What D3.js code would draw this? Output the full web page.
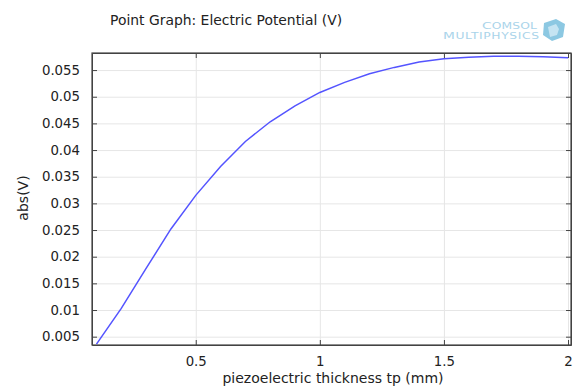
<!DOCTYPE html>
<html>
<head>
<meta charset="utf-8">
<script src="https://cdn.jsdelivr.net/npm/d3@7"></script>
<style>
  body { margin: 0; background: #fff; }
  svg text { font-family: "DejaVu Sans", sans-serif; fill: #222; }
  .grid line { stroke: #e6e6e6; }
  .grid path { display: none; }
  .axis path { stroke: #444; }
  .axis line { stroke: #444; }
</style>
</head>
<body>
<div id="chart"></div>
<script>
// chart data: thickness (mm) vs abs(V)
var thickness = [0.1, 0.2, 0.3, 0.4, 0.5, 0.6, 0.7, 0.8, 0.9, 1.0,
                 1.1, 1.2, 1.3, 1.4, 1.5, 1.6, 1.7, 1.8, 1.9, 2.0];
var absV = [0.0036, 0.0103, 0.0178, 0.0252, 0.0315, 0.0369, 0.0416, 0.0453, 0.0483, 0.0508,
            0.0527, 0.0543, 0.0555, 0.0565, 0.0571, 0.0574, 0.0576, 0.0576, 0.0575, 0.0573];
var xTicks = [0.5, 1, 1.5, 2];
var yTicks = [0.005, 0.01, 0.015, 0.02, 0.025, 0.03, 0.035, 0.04, 0.045, 0.05, 0.055];

var svgWidth = 574;
var svgHeight = 389;

var margin = { top: 53, right: 3, bottom: 44, left: 92 };
var width = svgWidth - margin.left - margin.right;   // 479
var height = svgHeight - margin.top - margin.bottom; // 292

var data = thickness.map(function(t, i) { return { x: t, y: absV[i] }; });

var svg = d3.select("#chart")
  .append("svg")
  .attr("width", svgWidth)
  .attr("height", svgHeight);

var chartGroup = svg.append("g")
  .attr("transform", `translate(${margin.left}, ${margin.top})`);

var xScale = d3.scaleLinear()
  .domain([0.082, 2.012])
  .range([0, width]);

var yScale = d3.scaleLinear()
  .domain([0.00344, 0.0582])
  .range([height, 0]);

var fmt = function(v) { return String(+v.toFixed(3)); };

// grid lines
chartGroup.append("g")
  .attr("class", "grid")
  .attr("transform", `translate(0, ${height})`)
  .call(d3.axisBottom(xScale).tickValues(xTicks).tickSize(-height).tickFormat(""));

chartGroup.append("g")
  .attr("class", "grid")
  .call(d3.axisLeft(yScale).tickValues(yTicks).tickSize(-width).tickFormat(""));

// line
var line = d3.line()
  .x(d => xScale(d.x))
  .y(d => yScale(d.y));

chartGroup.append("path")
  .datum(data)
  .attr("fill", "none")
  .attr("stroke", "#5454ff")
  .attr("stroke-width", 1.5)
  .attr("d", line);

// axes, ticks pointing inward
var bottomAxis = d3.axisBottom(xScale).tickValues(xTicks).tickSizeInner(-5).tickSizeOuter(0)
  .tickPadding(12).tickFormat(fmt);
var leftAxis = d3.axisLeft(yScale).tickValues(yTicks).tickSizeInner(-5).tickSizeOuter(0)
  .tickPadding(12).tickFormat(fmt);

var gx = chartGroup.append("g")
  .attr("class", "axis")
  .attr("transform", `translate(0, ${height})`)
  .call(bottomAxis);
gx.selectAll("text").attr("font-size", "13.3px").style("font-family", "DejaVu Sans");

var gy = chartGroup.append("g")
  .attr("class", "axis")
  .call(leftAxis);
gy.selectAll("text").attr("font-size", "13.3px").style("font-family", "DejaVu Sans");

chartGroup.append("g")
  .attr("class", "axis")
  .call(d3.axisTop(xScale).tickValues(xTicks).tickSizeInner(-5).tickSizeOuter(0).tickFormat(""));

chartGroup.append("g")
  .attr("class", "axis")
  .attr("transform", `translate(${width}, 0)`)
  .call(d3.axisRight(yScale).tickValues(yTicks).tickSizeInner(-5).tickSizeOuter(0).tickFormat(""));

// frame
chartGroup.append("rect")
  .attr("width", width)
  .attr("height", height)
  .attr("fill", "none")
  .attr("stroke", "#444")
  .attr("stroke-width", 1.2);

// title
svg.append("text")
  .attr("x", 110)
  .attr("y", 25)
  .attr("font-size", "13.9px")
  .text("Point Graph: Electric Potential (V)");

// axis labels
svg.append("text")
  .attr("transform", "rotate(-90)")
  .attr("x", -198)
  .attr("y", 28)
  .attr("text-anchor", "middle")
  .attr("font-size", "14px")
  .text("abs(V)");

svg.append("text")
  .attr("x", 333)
  .attr("y", 383)
  .attr("text-anchor", "middle")
  .attr("font-size", "14px")
  .text("piezoelectric thickness tp (mm)");

// logo (wide lettering)
var logo = svg.append("g").attr("class", "logo");
var logoText = logo.append("text")
  .attr("transform", "translate(482, 28.5) scale(1.45, 1)")
  .attr("textLength", 55 / 1.45)
  .attr("lengthAdjust", "spacing")
  .style("fill", "#aad4ea")
  .attr("font-size", "8.5px");
logoText.append("tspan").attr("font-size", "9.5px").text("C");
logoText.append("tspan").text("OMSOL");
var logoText2 = logo.append("text")
  .attr("transform", "translate(443, 38.5) scale(1.45, 1)")
  .attr("textLength", 96 / 1.45)
  .attr("lengthAdjust", "spacing")
  .style("fill", "#aad4ea")
  .attr("font-size", "8.5px");
logoText2.append("tspan").attr("font-size", "9.5px").text("M");
logoText2.append("tspan").text("ULTIPHYSICS");
logo.append("path")
  .attr("d", "M544,23 L556,19 L565,24 L563,37 L552,41 L543,35 Z")
  .attr("fill", "#8cc8e2");
logo.append("path")
  .attr("d", "M548,27 L556,24 L559,29 L557,35 L550,37 Z")
  .attr("fill", "#c5e4f2");
</script>
</body>
</html>
